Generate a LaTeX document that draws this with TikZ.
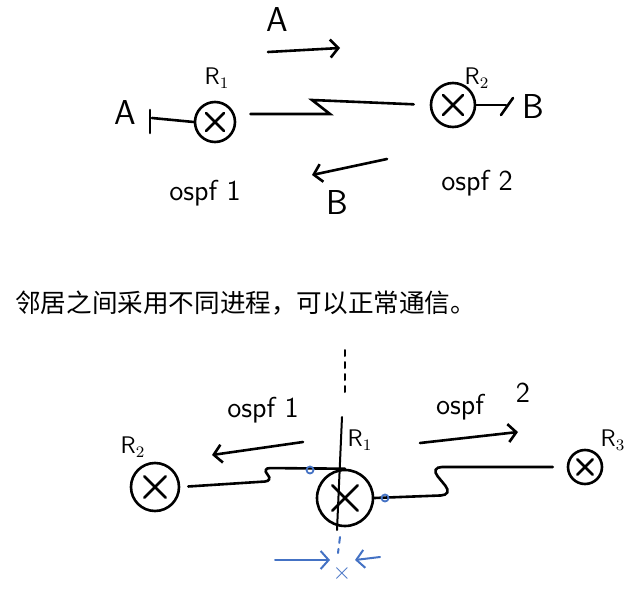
\documentclass[tikz,border=0pt]{standalone}
\usepackage{fontspec}
\newfontfamily\cjk{Noto Sans CJK SC}
\usetikzlibrary{arrows.meta,calc}
\definecolor{penblue}{RGB}{68,114,196}

\begin{document}
\begin{tikzpicture}[x=0.5pt,y=-0.5pt,line width=1.3pt,line cap=round,
    >={Straight Barb[length=4pt,width=9pt]},
    router/.style={circle,draw,minimum size=#1,inner sep=0pt,
      path picture={\draw ($(path picture bounding box.center)!0.45!(path picture bounding box.north west)$)
        -- ($(path picture bounding box.center)!0.45!(path picture bounding box.south east)$)
        ($(path picture bounding box.center)!0.45!(path picture bounding box.north east)$)
        -- ($(path picture bounding box.center)!0.45!(path picture bounding box.south west)$);}},
    lbl/.style={font=\sffamily\large,inner sep=1pt},
    proc lbl/.style={font=\sffamily\Large,inner sep=1pt},
    big lbl/.style={font=\sffamily\LARGE,inner sep=1pt},
    port/.style={circle,draw=penblue,line width=0.9pt,minimum size=3.5pt,inner sep=0pt},
    blue mark/.style={draw=penblue,line width=1pt}]
  \useasboundingbox (0,0) rectangle (643,589);

  % upper part: two routers, two processes
  \node[router=20pt] (ra) at (215,122) {};
  \node[router=22pt] (rb) at (453,105) {};
  \node[lbl] (ra lbl) at (217,78) {R$_1$};
  \node[lbl] (rb lbl) at (477,78) {R$_2$};
  \node[big lbl] (net a) at (125,113) {A};
  \node[big lbl] (net b) at (533,107) {B};
  \node[proc lbl] (proc a) at (205,193) {ospf 1};
  \node[proc lbl] (proc b) at (477,183) {ospf 2};

  \coordinate (ea) at (152,118);
  \coordinate (eb) at (506,105);
  \draw (ra.west) -- (ea);
  \draw (150,110) -- (150,133);
  \draw (rb.east) -- (eb);
  \draw (513,98) -- (501,115);

  \coordinate (za) at (330,114);
  \coordinate (zb) at (312,100);
  \draw[shorten <=7pt,shorten >=8pt] ([yshift=4pt]ra.east) -- (za) -- (zb) -- (rb.west);

  \node[big lbl] (route a) at (277,20) {A};
  \coordinate (ta1) at (268,52);
  \coordinate (ta2) at (340,48);
  \draw[->] (ta1) -- (ta2);
  \node[big lbl] (route b) at (337,203) {B};
  \coordinate (tb1) at (387,159);
  \coordinate (tb2) at (312,175);
  \draw[->] (tb1) -- (tb2);

  % caption
  \node[anchor=west,inner sep=0pt,font=\cjk\fontsize{12.8pt}{15pt}\selectfont] (note) at (14,303)
    {邻居之间采用不同进程，可以正常通信。};

  % lower part: R1 in the middle, two processes
  \node[router=28pt] (rc) at (345,498) {};
  \node[router=24pt] (rd) at (155,487) {};
  \node[router=17pt] (re) at (585,467) {};
  \node[lbl] (rc lbl) at (360,440) {R$_1$};
  \node[lbl] (rd lbl) at (133,447) {R$_2$};
  \node[lbl] (re lbl) at (613,440) {R$_3$};

  \coordinate (zl1) at (273,481);
  \coordinate (zl2) at (262,468);
  \draw[rounded corners=4pt,shorten <=4pt] (rd.east) -- (zl1) -- (zl2) -- (rc.north);
  \coordinate (zr1) at (453,495);
  \coordinate (zr2) at (430,467);
  \draw[rounded corners=6pt,shorten >=7pt] (rc.east) -- (zr1) -- (zr2) -- (re.west);
  \node[port] (pa) at (310,470) {};
  \node[port] (pb) at (385,498) {};

  \node[proc lbl] (proc c) at (263,410) {ospf 1};
  \coordinate (la1) at (303,442);
  \coordinate (la2) at (212,455);
  \draw[->] (la1) -- (la2);
  \node[proc lbl] (proc d) at (460,407) {ospf};
  \node[proc lbl] (proc d2) at (523,393) {2};
  \coordinate (lb1) at (420,443);
  \coordinate (lb2) at (518,432);
  \draw[->] (lb1) -- (lb2);

  % split horizon line
  \coordinate (v1) at (345,350);
  \coordinate (v2) at (345,393);
  \coordinate (v3) at (342,417);
  \coordinate (v4) at (337,530);
  \coordinate (v5) at (340,537);
  \coordinate (v6) at (338,553);
  \draw[dashed,line width=1pt] (v1) -- (v2);
  \draw[line width=1pt] (v3) -- (v4);
  \draw[blue mark,dashed] (v5) -- (v6);
  \node[text=penblue,font=\sffamily\large,inner sep=0pt] (stop) at (342,573) {$\times$};
  \coordinate (bl1) at (275,560);
  \coordinate (bl2) at (330,560);
  \coordinate (br1) at (380,557);
  \coordinate (br2) at (355,560);
  \draw[blue mark,->] (bl1) -- (bl2);
  \draw[blue mark,->] (br1) -- (br2);
\end{tikzpicture}
\end{document}
